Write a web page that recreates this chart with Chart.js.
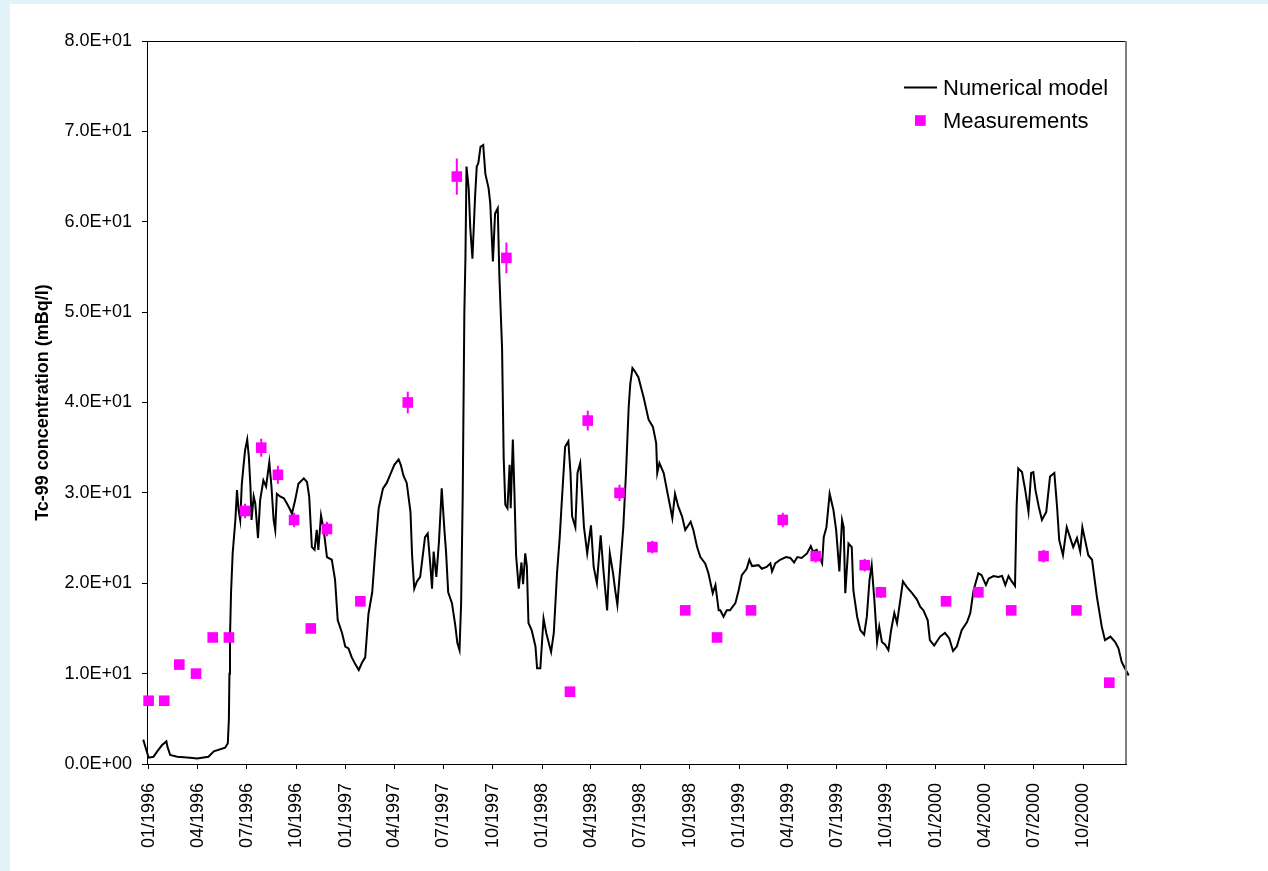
<!DOCTYPE html>
<html><head><meta charset="utf-8">
<script src="https://cdn.jsdelivr.net/npm/chart.js@4.4.0/dist/chart.umd.min.js"></script>
<style>html,body{margin:0;padding:0;background:#fff;overflow:hidden}canvas{display:block}</style>
</head><body>
<canvas id="c" width="1268" height="871"></canvas>
<script>
// Numerical model: days since 01/01/1996 and Tc-99 concentration (mBq/l)
const modelDays = [
  -10, 0, 9, 16, 25, 33, 35, 40, 53,
  77, 90, 111, 121, 142, 147, 149, 150, 151, 153,
  156, 161, 164, 167, 170, 173, 176, 179, 183, 186,
  189, 191, 195, 198, 203, 207, 213, 218, 224, 228,
  232, 235, 238, 244, 251, 257, 263, 266, 272, 278,
  288, 294, 298, 303, 308, 312, 315, 320, 325, 331,
  340, 346, 351, 359, 365, 371, 377, 384, 390, 396,
  402, 408, 415, 421, 427, 435, 442, 449, 456, 464,
  468, 473, 479, 486, 489, 493, 498, 504, 513, 518,
  523, 526, 529, 534, 539, 544, 549, 552, 556, 563,
  569, 573, 577, 580, 583, 586, 588, 590, 594, 597,
  601, 606, 609, 612, 616, 621, 625, 631, 634, 639,
  643, 648, 651, 656, 659, 662, 666, 670, 672, 676,
  679, 682, 687, 692, 695, 699, 702, 705, 711, 718,
  721, 727, 733, 738, 747, 752, 758, 763, 767, 773,
  779, 783, 786, 792, 796, 801, 804, 808, 814, 821,
  826, 832, 839, 844, 851, 856, 862, 866, 870, 875,
  881, 886, 891, 894, 898, 903, 909, 919, 928, 936,
  942, 944, 948, 956, 962, 968, 972, 977, 983, 990,
  996, 1006, 1011, 1018, 1024, 1033, 1039, 1047, 1052, 1058,
  1061, 1067, 1073, 1079, 1089, 1095, 1101, 1110, 1115, 1120,
  1132, 1138, 1147, 1154, 1157, 1163, 1172, 1183, 1191, 1198,
  1204, 1212, 1222, 1229, 1233, 1240, 1245, 1250, 1253, 1258,
  1264, 1271, 1276, 1282, 1287, 1290, 1293, 1299, 1305, 1308,
  1315, 1321, 1328, 1333, 1338, 1342, 1347, 1352, 1356, 1361,
  1367, 1373, 1378, 1384, 1389, 1395, 1400, 1407, 1417, 1426,
  1432, 1438, 1446, 1450, 1458, 1469, 1478, 1486, 1493, 1500,
  1509, 1519, 1525, 1531, 1540, 1546, 1554, 1559, 1568, 1577,
  1584, 1590, 1596, 1602, 1608, 1611, 1614, 1621, 1627, 1633,
  1638, 1642, 1646, 1652, 1658, 1666, 1673, 1681, 1686, 1690,
  1697, 1704, 1710, 1716, 1723, 1729, 1733, 1738, 1744, 1751,
  1760, 1769, 1775, 1785, 1794, 1800, 1806, 1812, 1819, 1821
];
const modelValues = [
  2.7, 0.7, 0.8, 1.4, 2.1, 2.5, 1.9, 1.0, 0.8,
  0.7, 0.6, 0.8, 1.4, 1.8, 2.3, 5.0, 10.0, 14.0, 19.0,
  23.3, 27.0, 30.3, 28.1, 27.0, 31.0, 32.9, 34.7, 35.9, 34.0,
  30.7, 27.0, 29.6, 28.8, 25.0, 29.2, 31.4, 30.7, 33.4, 30.7,
  27.0, 25.9, 29.9, 29.6, 29.4, 28.8, 28.1, 27.7, 29.2, 31.0,
  31.6, 31.2, 29.6, 24.0, 23.7, 25.9, 23.7, 27.5, 25.9, 22.9,
  22.6, 20.4, 15.9, 14.5, 13.0, 12.8, 11.8, 11.0, 10.4, 11.2,
  11.8, 16.6, 19.0, 23.9, 28.3, 30.5, 31.1, 32.1, 33.1, 33.7,
  33.1, 31.9, 31.1, 27.9, 23.1, 19.4, 20.2, 20.7, 25.1, 25.5,
  21.9, 19.4, 23.5, 20.7, 24.7, 30.5, 25.9, 23.5, 19.0, 17.8,
  15.4, 13.4, 12.6, 17.8, 29.9, 50.0, 56.0, 66.1, 63.7, 59.3,
  55.9, 62.9, 66.1, 66.5, 68.3, 68.5, 65.3, 63.7, 62.1, 55.6,
  60.9, 61.5, 54.0, 46.0, 33.9, 28.7, 28.3, 33.1, 28.3, 35.9,
  29.9, 23.1, 19.4, 22.3, 19.9, 23.3, 21.9, 15.6, 14.8, 13.0,
  10.6, 10.6, 16.1, 14.5, 12.4, 14.5, 21.1, 25.1, 29.2, 35.1,
  35.7, 32.2, 27.4, 26.2, 32.2, 33.3, 30.3, 26.2, 23.3, 26.4,
  21.8, 20.0, 25.3, 21.5, 17.0, 23.3, 21.1, 19.2, 17.6, 21.5,
  26.2, 32.2, 39.5, 42.1, 43.8, 43.4, 42.8, 40.5, 38.1, 37.3,
  35.5, 32.2, 33.3, 32.2, 30.3, 28.5, 27.2, 29.9, 28.5, 27.4,
  25.9, 26.8, 25.9, 24.0, 22.9, 22.2, 21.1, 18.9, 19.8, 17.0,
  17.0, 16.3, 17.0, 17.0, 17.8, 19.2, 20.9, 21.6, 22.6, 21.9,
  22.0, 21.6, 21.8, 22.2, 21.3, 22.2, 22.6, 22.9, 22.8, 22.3,
  22.9, 22.8, 23.3, 24.1, 23.5, 23.7, 22.9, 22.2, 25.1, 26.2,
  29.9, 28.1, 25.9, 21.3, 27.0, 26.2, 18.9, 24.4, 24.0, 19.2,
  16.3, 14.8, 14.3, 16.3, 20.4, 22.0, 18.1, 13.5, 15.2, 13.5,
  13.2, 12.6, 14.8, 16.7, 15.6, 18.1, 20.2, 19.6, 18.9, 18.2,
  17.4, 17.0, 15.9, 13.7, 13.1, 14.1, 14.5, 13.9, 12.5, 13.0,
  14.8, 15.7, 16.7, 19.2, 21.1, 20.9, 19.8, 20.5, 20.8, 20.7,
  20.8, 19.8, 20.8, 20.2, 19.7, 28.5, 32.7, 32.3, 30.3, 27.9,
  32.2, 32.3, 30.3, 28.5, 27.0, 27.9, 31.8, 32.2, 28.5, 24.8,
  23.1, 26.2, 25.1, 24.0, 25.0, 23.5, 26.2, 24.8, 23.1, 22.6,
  18.5, 15.2, 13.7, 14.1, 13.5, 12.8, 11.3, 10.6, 9.8, 9.5
];

// Measurements
const measDays = [0, 29, 57, 88, 119, 149, 179, 209, 240, 270, 301, 331, 393, 481, 572, 664,
  782, 815, 874, 935, 996, 1055, 1118, 1177, 1238, 1329, 1359, 1480, 1540, 1601, 1661, 1722, 1783];
const measValues = [7, 7, 11, 10, 14, 14, 28, 35, 32, 27, 15, 26, 18, 40, 65, 56,
  8, 38, 30, 24, 17, 14, 17, 27, 23, 22, 19, 18, 19, 17, 23, 17, 9];
const measErrors = [0.2, 0.2, 0.3, 0.3, 0.4, 0.4, 0.8, 1.0, 1.0, 0.8, 0.5, 0.8, 0.5, 1.2, 2.0, 1.7,
  0.2, 1.1, 0.9, 0.7, 0.5, 0.4, 0.5, 0.8, 0.7, 0.7, 0.6, 0.5, 0.6, 0.5, 0.7, 0.5, 0.3];

// Axis ticks
const xTickDays = [0, 91, 182, 274, 366, 456, 547, 639, 731, 821, 912, 1004, 1096, 1186, 1277, 1369, 1461, 1552, 1643, 1735];
const xTickLabels = ['01/1996','04/1996','07/1996','10/1996','01/1997','04/1997','07/1997','10/1997',
  '01/1998','04/1998','07/1998','10/1998','01/1999','04/1999','07/1999','10/1999',
  '01/2000','04/2000','07/2000','10/2000'];
const yTickLabels = ['0.0E+00','1.0E+01','2.0E+01','3.0E+01','4.0E+01','5.0E+01','6.0E+01','7.0E+01','8.0E+01'];

const FONT = '"Liberation Sans", Arial, sans-serif';

const bgPlugin = {
  id: 'bg',
  beforeDraw(chart) {
    const ctx = chart.ctx;
    ctx.save();
    ctx.fillStyle = '#e2f2f9';
    ctx.fillRect(0, 0, chart.width, chart.height);
    ctx.fillStyle = '#ffffff';
    ctx.fillRect(10, 4, chart.width - 10, chart.height - 4);
    ctx.restore();
  }
};

const framePlugin = {
  id: 'frame',
  afterDraw(chart) {
    const a = chart.chartArea, ctx = chart.ctx;
    ctx.save();
    ctx.strokeStyle = '#000'; ctx.lineWidth = 1;
    ctx.beginPath(); ctx.moveTo(a.left, Math.round(a.top) + 0.5); ctx.lineTo(a.right, Math.round(a.top) + 0.5); ctx.stroke();
    ctx.strokeStyle = '#808080'; ctx.lineWidth = 2;
    ctx.beginPath(); ctx.moveTo(Math.round(a.right), a.top); ctx.lineTo(Math.round(a.right), a.bottom); ctx.stroke();
    ctx.restore();
  }
};

const errorBarPlugin = {
  id: 'errorBars',
  beforeDatasetsDraw(chart) {
    const xs = chart.scales.x, ys = chart.scales.y, ctx = chart.ctx;
    ctx.save();
    ctx.strokeStyle = '#ff00ff'; ctx.lineWidth = 2;
    measDays.forEach((d, i) => {
      const px = xs.getPixelForValue(d);
      ctx.beginPath();
      ctx.moveTo(px, ys.getPixelForValue(measValues[i] - measErrors[i]));
      ctx.lineTo(px, ys.getPixelForValue(measValues[i] + measErrors[i]));
      ctx.stroke();
    });
    ctx.restore();
  }
};

const legendPlugin = {
  id: 'insideLegend',
  afterDraw(chart) {
    const a = chart.chartArea, ctx = chart.ctx;
    const rows = [a.top + 46.5, a.top + 79.5];
    ctx.save();
    ctx.font = '22px ' + FONT;
    ctx.textBaseline = 'middle';
    ctx.textAlign = 'left';
    chart.data.datasets.forEach((ds, i) => {
      const y = rows[i];
      if (ds.showLine) {
        ctx.strokeStyle = ds.borderColor; ctx.lineWidth = 2;
        ctx.beginPath(); ctx.moveTo(a.right - 222, y); ctx.lineTo(a.right - 189, y); ctx.stroke();
      } else {
        ctx.fillStyle = ds.backgroundColor;
        ctx.fillRect(a.right - 211, y - 5.3, 10.7, 10.7);
      }
      ctx.fillStyle = '#000';
      ctx.fillText(ds.label, a.right - 183, y + 1);
    });
    ctx.restore();
  }
};

new Chart(document.getElementById('c'), {
  type: 'scatter',
  data: {
    datasets: [
      {
        label: 'Numerical model',
        data: modelDays.map((d, i) => ({x: d, y: modelValues[i]})),
        showLine: true,
        borderColor: '#000000',
        backgroundColor: '#000000',
        borderWidth: 2,
        pointRadius: 0,
        tension: 0,
        clip: false,
        order: 1
      },
      {
        label: 'Measurements',
        data: measDays.map((d, i) => ({x: d, y: measValues[i]})),
        showLine: false,
        pointStyle: 'rect',
        pointRadius: 7.5,
        pointHoverRadius: 7.5,
        backgroundColor: '#ff00ff',
        borderColor: '#ff00ff',
        borderWidth: 0,
        clip: false,
        order: 0
      }
    ]
  },
  options: {
    responsive: false,
    animation: false,
    devicePixelRatio: 1,
    events: [],
    layout: { padding: { left: 0, top: 41, right: 142, bottom: 0 } },
    plugins: {
      legend: { display: false },
      tooltip: { enabled: false },
      title: { display: false }
    },
    scales: {
      x: {
        type: 'linear',
        position: 'bottom',
        min: -3,
        max: 1814,
        afterBuildTicks: (s) => { s.ticks = xTickDays.map(v => ({value: v})); },
        afterFit: (s) => { s.height = 107; },
        grid: { drawOnChartArea: false, drawTicks: true, tickLength: 5, color: '#000', tickColor: '#000' },
        border: { display: true, color: '#000', width: 1 },
        ticks: {
          autoSkip: false, minRotation: 90, maxRotation: 90, padding: 14,
          color: '#000', font: { family: FONT, size: 18 },
          callback: (v, i) => xTickLabels[i]
        }
      },
      y: {
        type: 'linear',
        min: 0,
        max: 80,
        afterFit: (s) => { s.width = 147; },
        grid: { drawOnChartArea: false, drawTicks: true, tickLength: 5, color: '#000', tickColor: '#000' },
        border: { display: true, color: '#000', width: 1 },
        ticks: {
          stepSize: 10, padding: 10, color: '#000', font: { family: FONT, size: 18 },
          callback: (v, i) => yTickLabels[i]
        },
        title: {
          display: true, text: 'Tc-99 concentration (mBq/l)', color: '#000',
          font: { family: FONT, size: 18, weight: 'bold' },
          padding: { top: 32, bottom: 0 }
        }
      }
    }
  },
  plugins: [bgPlugin, errorBarPlugin, framePlugin, legendPlugin]
});
</script>
</body></html>
